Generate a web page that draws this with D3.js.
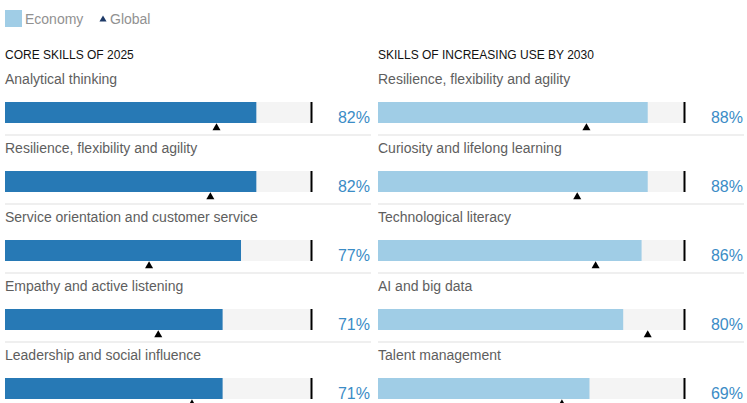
<!DOCTYPE html>
<html>
<head>
<meta charset="utf-8">
<script src="https://cdn.jsdelivr.net/npm/d3@7"></script>
<style>
  body { margin: 0; background: #fff; }
  svg { font-family: "Liberation Sans", Arial, sans-serif; }
</style>
</head>
<body>
<div id="chart"></div>
<script>
// data
const panelTitles = ["CORE SKILLS OF 2025", "SKILLS OF INCREASING USE BY 2030"];
const coreSkills = ["Analytical thinking", "Resilience, flexibility and agility", "Service orientation and customer service", "Empathy and active listening", "Leadership and social influence"];
const coreEconomy = [82, 82, 77, 71, 71];
const coreGlobal = [69, 67, 47, 50, 61];
const risingSkills = ["Resilience, flexibility and agility", "Curiosity and lifelong learning", "Technological literacy", "AI and big data", "Talent management"];
const risingEconomy = [88, 88, 86, 80, 69];
const risingGlobal = [68, 65, 71, 88, 60];
const legendLabels = ["Economy", "Global"];

const width = 747, height = 403;
const panels = [
  { title: panelTitles[0], skills: coreSkills, eco: coreEconomy, glob: coreGlobal, x0: 5, color: "#2779b5" },
  { title: panelTitles[1], skills: risingSkills, eco: risingEconomy, glob: risingGlobal, x0: 378, color: "#a0cde6" }
];

const svg = d3.select("#chart").append("svg")
  .attr("width", width).attr("height", height);

// legend
const legend = svg.append("g");
legend.append("rect").attr("x", 5).attr("y", 10).attr("width", 17).attr("height", 17).attr("fill", "#a0cde6");
legend.append("text").attr("x", 25).attr("y", 24).attr("font-size", "14px").attr("fill", "#919191").text(legendLabels[0]);
legend.append("path").attr("d", d3.symbol(d3.symbolTriangle, 22)()).attr("transform", "translate(103,19.5)").attr("fill", "#1e3a68");
legend.append("text").attr("x", 110).attr("y", 24).attr("font-size", "14px").attr("fill", "#919191").text(legendLabels[1]);

const barH = 21;
const rowStep = 69;

panels.forEach(p => {
  const x = d3.scaleLinear().domain([0, 100]).range([p.x0, p.x0 + 306.5]);
  const y = d3.scaleBand().domain(p.skills).range([102, 102 + rowStep * p.skills.length]);
  const g = svg.append("g");

  g.append("text").attr("x", p.x0).attr("y", 59).attr("font-size", "12px").attr("fill", "#111").text(p.title);

  const rows = g.selectAll("g.row").data(p.skills).enter().append("g").attr("class", "row");

  rows.append("text")
    .attr("x", p.x0).attr("y", d => y(d) - 18)
    .attr("font-size", "14px").attr("fill", "#5e5e5e")
    .text(d => d);

  rows.append("rect")
    .attr("x", x(0)).attr("y", d => y(d))
    .attr("width", x(100) - x(0)).attr("height", barH)
    .attr("fill", "#f4f4f4");

  rows.append("rect")
    .attr("x", x(0)).attr("y", d => y(d))
    .attr("width", (d, i) => x(p.eco[i]) - x(0)).attr("height", barH)
    .attr("fill", p.color);

  rows.append("line")
    .attr("x1", x(100)).attr("x2", x(100))
    .attr("y1", d => y(d)).attr("y2", d => y(d) + barH)
    .attr("stroke", "#000").attr("stroke-width", 2);

  rows.append("text")
    .attr("x", p.x0 + 365).attr("y", d => y(d) + 21)
    .attr("text-anchor", "end").attr("font-size", "16px").attr("fill", "#3b8cc6")
    .text((d, i) => p.eco[i] + "%");

  rows.append("path")
    .attr("d", d3.symbol(d3.symbolTriangle, 28)())
    .attr("transform", (d, i) => `translate(${x(p.glob[i])},${y(d) + barH + 5})`)
    .attr("fill", "#000");

  rows.append("line")
    .attr("x1", p.x0).attr("x2", p.x0 + 366)
    .attr("y1", d => y(d) + 33).attr("y2", d => y(d) + 33)
    .attr("stroke", "#efefef").attr("stroke-width", 2);
});
</script>
</body>
</html>
